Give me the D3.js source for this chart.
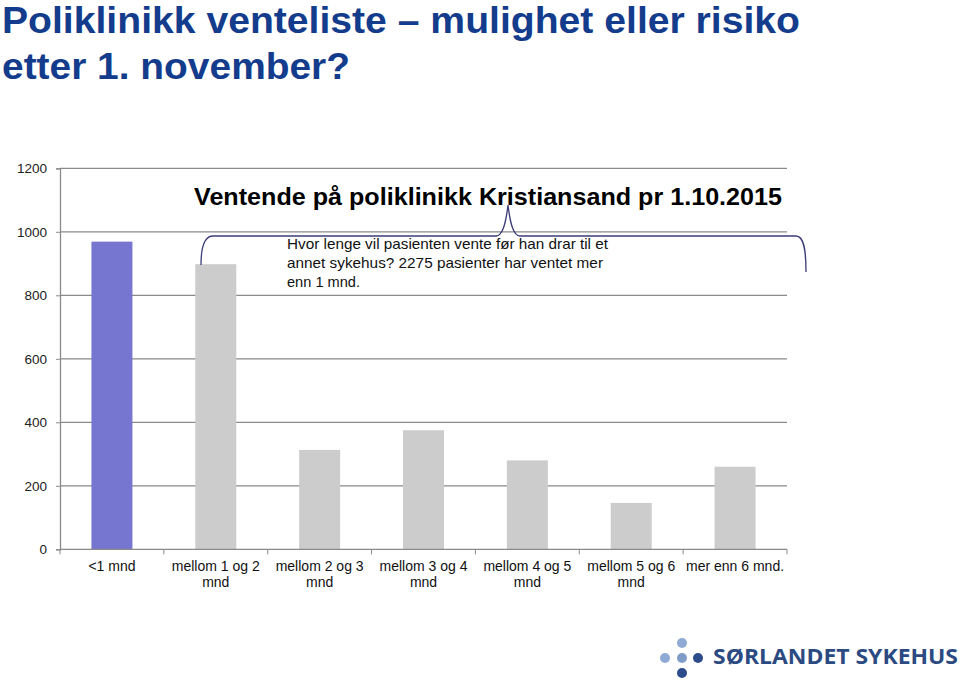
<!DOCTYPE html>
<html><head><meta charset="utf-8">
<script src="https://cdn.jsdelivr.net/npm/d3@7"></script>
<style>body{margin:0;background:#fff}svg{display:block}</style>
</head><body>
<svg id="c" width="960" height="684"></svg>
<script>
const categories = [["<1 mnd"],["mellom 1 og 2","mnd"],["mellom 2 og 3","mnd"],["mellom 3 og 4","mnd"],["mellom 4 og 5","mnd"],["mellom 5 og 6","mnd"],["mer enn 6 mnd."]];
const values = [969, 898, 313, 375, 280, 146, 260];
const barColors = ["#7676d0","#cccccc","#cccccc","#cccccc","#cccccc","#cccccc","#cccccc"];
const yTicks = [0,200,400,600,800,1000,1200];
const titleLines = ["Poliklinikk venteliste – mulighet eller risiko","etter 1. november?"];
const chartTitle = "Ventende på poliklinikk Kristiansand pr 1.10.2015";
const noteLines = ["Hvor lenge vil pasienten vente før han drar til et","annet sykehus? 2275 pasienter har ventet mer","enn 1 mnd."];
const logoText = "SØRLANDET SYKEHUS";

const svg = d3.select("#c");
const font = "Liberation Sans, Arial, sans-serif";

// main title
const tl = [[2,33,798],[2,79,348]];
titleLines.forEach((t,i)=>{
  svg.append("text").attr("x",tl[i][0]).attr("y",tl[i][1])
    .attr("font-family",font).attr("font-weight","bold").attr("font-size",36.5)
    .attr("fill","#143c8c").attr("textLength",tl[i][2]).attr("lengthAdjust","spacingAndGlyphs").text(t);
});

const x0 = 60, x1 = 787, yB = 549.3, yT = 168.3;
const x = d3.scaleBand().domain(d3.range(categories.length)).range([x0,x1]).paddingInner(0).paddingOuter(0);
const y = d3.scaleLinear().domain([0,1200]).range([yB,yT]);

// gridlines
svg.append("g").selectAll("line").data(yTicks.filter(d=>d>0)).join("line")
  .attr("x1",x0).attr("x2",x1).attr("y1",d=>y(d)).attr("y2",d=>y(d))
  .attr("stroke","#8a8a8a").attr("stroke-width",1.3);

// bars
const bw = 41;
svg.append("g").selectAll("rect").data(values).join("rect")
  .attr("x",(d,i)=>x(i)+x.bandwidth()/2-bw/2).attr("width",bw)
  .attr("y",d=>y(d)).attr("height",d=>yB-y(d))
  .attr("fill",(d,i)=>barColors[i]);

// y axis
const ya = svg.append("g").attr("transform",`translate(${x0},0)`)
  .call(d3.axisLeft(y).tickValues(yTicks).tickFormat(d3.format("d")).tickSize(4).tickPadding(9));
ya.select(".domain").attr("stroke","#8a8a8a").attr("stroke-width",1.3);
ya.selectAll(".tick line").attr("stroke","#8a8a8a");
ya.selectAll("text").attr("font-family",font).attr("font-size",13.5).attr("fill","#222");

// x axis
const xa = svg.append("g").attr("transform",`translate(0,${yB})`);
xa.append("line").attr("x1",x0).attr("x2",x1).attr("stroke","#8a8a8a").attr("stroke-width",1.3);
xa.selectAll("line.t").data(d3.range(categories.length+1)).join("line").attr("class","t")
  .attr("x1",i=>x0+i*x.bandwidth()).attr("x2",i=>x0+i*x.bandwidth()).attr("y1",0).attr("y2",5)
  .attr("stroke","#8a8a8a");
categories.forEach((lines,i)=>{
  const t = svg.append("text").attr("x",x(i)+x.bandwidth()/2).attr("y",571)
    .attr("text-anchor","middle").attr("font-family",font).attr("font-size",14).attr("fill","#111");
  lines.forEach((l,j)=>t.append("tspan").attr("x",x(i)+x.bandwidth()/2).attr("dy",j?16:0).text(l));
});

// chart title
svg.append("text").attr("x",488).attr("y",205).attr("text-anchor","middle")
  .attr("font-family",font).attr("font-weight","bold").attr("font-size",24.5).attr("fill","#000")
  .attr("textLength",588).attr("lengthAdjust","spacingAndGlyphs").text(chartTitle);

// brace
const bp = d3.path();
bp.moveTo(201,265);
bp.bezierCurveTo(201,250,203,236,213,236);
bp.lineTo(496,236);
bp.bezierCurveTo(503,236,506,222,508,205);
bp.bezierCurveTo(510,222,513,236,520,236);
bp.lineTo(796,236);
bp.bezierCurveTo(804,236,806,250,806,272);
svg.append("path").attr("d",bp.toString()).attr("fill","none").attr("stroke","#3c3c78").attr("stroke-width",1.3);

// note
const noteW = [321, 316, 73];
noteLines.forEach((l,i)=>{
  svg.append("text").attr("x",287).attr("y",249+i*19).attr("font-family",font).attr("font-size",15)
    .attr("fill","#111").attr("textLength",noteW[i]).attr("lengthAdjust","spacingAndGlyphs").text(l);
});

// logo
const dots = [[665,658,"#8faad4"],[682,643,"#8faad4"],[682,658,"#7f9cc8"],[698,658,"#2c4c8c"],[682,673,"#2c4c8c"]];
svg.append("g").selectAll("circle").data(dots).join("circle")
  .attr("cx",d=>d[0]).attr("cy",d=>d[1]).attr("r",5).attr("fill",d=>d[2]);
svg.append("text").attr("x",713).attr("y",664).attr("font-family","Open Sans, DejaVu Sans, sans-serif")
  .attr("font-weight","bold").attr("font-size",21).attr("fill","#2c4a82")
  .attr("textLength",245).attr("lengthAdjust","spacingAndGlyphs").text(logoText);
</script>
</body></html>
